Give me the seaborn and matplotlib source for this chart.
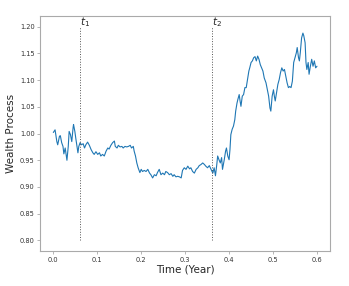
"""Wealth process path with two marked switching times."""

import matplotlib

matplotlib.use("Agg")
import matplotlib.pyplot as plt
import numpy as np
import pandas as pd
import seaborn as sns

# time grid (years) and wealth values
time_years = [
    0.000, 0.004, 0.008, 0.010, 0.014, 0.016, 0.019, 0.022, 0.024, 0.027,
    0.029, 0.031, 0.034, 0.036, 0.039, 0.042, 0.045, 0.046, 0.049, 0.051,
    0.054, 0.056, 0.058, 0.061, 0.064, 0.068, 0.071, 0.074, 0.078, 0.082,
    0.086, 0.090, 0.093, 0.097, 0.101, 0.105, 0.108, 0.112, 0.116, 0.120,
    0.124, 0.127, 0.131, 0.135, 0.139, 0.141, 0.145, 0.148, 0.152, 0.156,
    0.159, 0.163, 0.167, 0.171, 0.175, 0.178, 0.182, 0.184, 0.187, 0.190,
    0.193, 0.197, 0.200, 0.203, 0.207, 0.211, 0.215, 0.219, 0.222, 0.226,
    0.230, 0.234, 0.237, 0.241, 0.245, 0.249, 0.253, 0.256, 0.260, 0.264,
    0.268, 0.272, 0.275, 0.279, 0.283, 0.287, 0.291, 0.294, 0.298, 0.302,
    0.306, 0.310, 0.313, 0.317, 0.321, 0.325, 0.329, 0.332, 0.336, 0.340,
    0.344, 0.347, 0.351, 0.355, 0.359, 0.363, 0.366, 0.369, 0.372, 0.374,
    0.377, 0.380, 0.383, 0.385, 0.389, 0.392, 0.394, 0.397, 0.400, 0.402,
    0.404, 0.407, 0.410, 0.413, 0.415, 0.418, 0.420, 0.423, 0.425, 0.427,
    0.430, 0.433, 0.436, 0.439, 0.442, 0.445, 0.447, 0.450, 0.453, 0.456,
    0.459, 0.462, 0.465, 0.468, 0.471, 0.474, 0.477, 0.480, 0.484, 0.487,
    0.490, 0.493, 0.495, 0.498, 0.501, 0.503, 0.505, 0.508, 0.511, 0.514,
    0.517, 0.520, 0.523, 0.526, 0.529, 0.532, 0.535, 0.538, 0.541, 0.544,
    0.547, 0.550, 0.553, 0.555, 0.558, 0.560, 0.562, 0.565, 0.568, 0.570,
    0.573, 0.575, 0.577, 0.580, 0.582, 0.585, 0.588, 0.591, 0.594, 0.597,
    0.600,
]
wealth = [
    1.002, 1.007, 0.985, 0.979, 0.995, 0.996, 0.983, 0.976, 0.962, 0.973,
    0.961, 0.950, 0.976, 1.004, 0.998, 0.985, 1.011, 1.017, 1.004, 0.992,
    0.976, 0.964, 0.976, 0.983, 0.979, 0.981, 0.973, 0.979, 0.984, 0.978,
    0.970, 0.964, 0.961, 0.966, 0.961, 0.964, 0.958, 0.961, 0.958, 0.967,
    0.973, 0.971, 0.978, 0.983, 0.986, 0.976, 0.973, 0.978, 0.975, 0.976,
    0.973, 0.976, 0.975, 0.976, 0.978, 0.973, 0.976, 0.967, 0.958, 0.945,
    0.936, 0.927, 0.933, 0.929, 0.931, 0.929, 0.933, 0.926, 0.923, 0.917,
    0.923, 0.921, 0.927, 0.933, 0.923, 0.926, 0.923, 0.929, 0.927, 0.923,
    0.925, 0.920, 0.923, 0.919, 0.920, 0.919, 0.917, 0.931, 0.936, 0.933,
    0.939, 0.934, 0.936, 0.929, 0.926, 0.933, 0.936, 0.940, 0.942, 0.945,
    0.942, 0.939, 0.936, 0.940, 0.933, 0.926, 0.936, 0.921, 0.942, 0.958,
    0.951, 0.945, 0.955, 0.933, 0.951, 0.967, 0.973, 0.958, 0.951, 0.970,
    0.998, 1.008, 1.014, 1.026, 1.042, 1.057, 1.064, 1.073, 1.061, 1.051,
    1.070, 1.073, 1.086, 1.086, 1.101, 1.117, 1.123, 1.133, 1.136, 1.142,
    1.144, 1.136, 1.145, 1.139, 1.129, 1.123, 1.117, 1.104, 1.095, 1.082,
    1.070, 1.048, 1.042, 1.070, 1.082, 1.070, 1.061, 1.076, 1.092, 1.101,
    1.114, 1.123, 1.117, 1.120, 1.107, 1.095, 1.086, 1.088, 1.086, 1.098,
    1.133, 1.142, 1.151, 1.161, 1.142, 1.136, 1.151, 1.179, 1.188, 1.183,
    1.170, 1.133, 1.120, 1.133, 1.111, 1.126, 1.139, 1.126, 1.136, 1.123,
    1.126,
]
switch_times = [0.06, 0.36]
switch_labels = ["$t_1$", "$t_2$"]
marker_span = [0.80, 1.20]

df = pd.DataFrame({"time": time_years, "wealth": wealth})

sns.set_style("ticks")
plt.rcParams["font.family"] = ["DejaVu Sans"]

fig = plt.figure(figsize=(3.49, 2.86), dpi=100)
ax = fig.add_axes([0.115, 0.122, 0.831, 0.822])

sns.lineplot(data=df, x="time", y="wealth", ax=ax, color="#1f77b4", linewidth=0.8)

for t, label in zip(switch_times, switch_labels):
    ax.vlines(t, marker_span[0], marker_span[1], colors="#555555", linestyles=":", linewidth=0.7)
    ax.text(t, marker_span[1] - 0.004, label, ha="left", va="bottom", fontsize=7.5)

ax.set_xticks(np.arange(0.0, 0.61, 0.1))
ax.set_yticks(np.arange(0.80, 1.201, 0.05))
ax.set_xticklabels([f"{v:.1f}" for v in np.arange(0.0, 0.61, 0.1)])
ax.set_yticklabels([f"{v:.2f}" for v in np.arange(0.80, 1.201, 0.05)])
ax.set_xlim(-0.03, 0.63)
ax.set_ylim(0.78, 1.22)

ax.set_xlabel("Time (Year)", fontsize=7.5, labelpad=1)
ax.set_ylabel("Wealth Process", fontsize=7.5, labelpad=3)
ax.tick_params(labelsize=4.8, length=2, width=0.5, color="#999999", labelcolor="#333333", pad=2)
for spine in ax.spines.values():
    spine.set_color("#aaaaaa")
    spine.set_linewidth(0.8)

fig.savefig("out.png", dpi=100)
